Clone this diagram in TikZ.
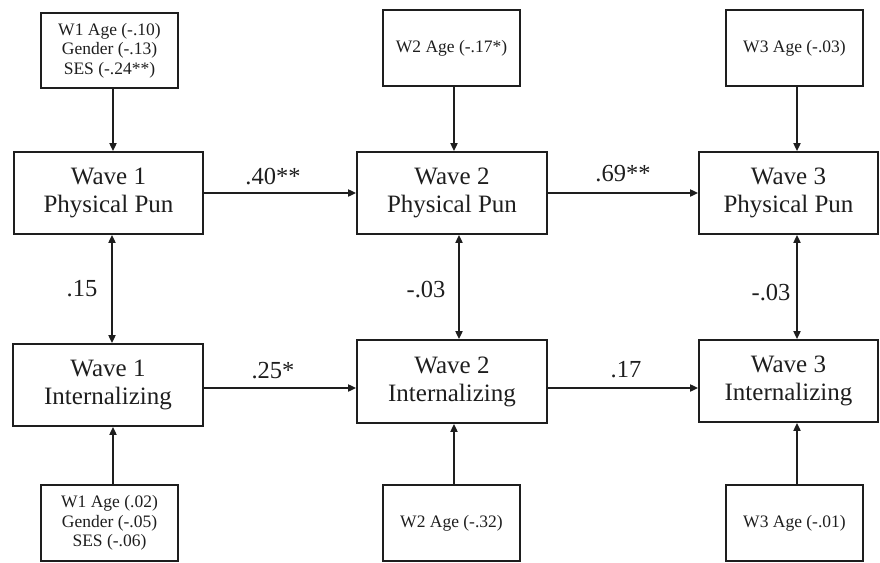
\documentclass[tikz,border=0pt]{standalone}
\usepackage{fontspec}
\setmainfont{Liberation Serif}
\usetikzlibrary{arrows.meta,calc}
\definecolor{ink}{RGB}{30,30,30}
\begin{document}
\begin{tikzpicture}[x=1pt,y=-1pt,
  mainbox/.style={draw=ink,line width=1.7pt,inner sep=0pt,align=center,
    font=\fontsize{25}{28}\selectfont,text=ink},
  covbox/.style={draw=ink,line width=1.7pt,inner sep=0pt,align=center,
    font=\fontsize{17.5}{19.5}\selectfont,text=ink,minimum width=137pt,minimum height=76pt},
  coef/.style={font=\fontsize{24.5}{28}\selectfont,text=ink,inner sep=0pt},
  arr/.style={draw=ink,line width=1.7pt,-{Triangle[length=8pt,width=7pt]}},
  darr/.style={draw=ink,line width=1.7pt,{Triangle[length=8pt,width=7pt]}-{Triangle[length=8pt,width=7pt]}}]
\useasboundingbox (0,0) rectangle (880,562);
% main boxes
\node[mainbox,minimum width=189pt,minimum height=82pt] (p1) at (108.5,193) {Wave 1\\Physical Pun};
\node[mainbox,minimum width=190pt,minimum height=82pt] (p2) at (452,193) {Wave 2\\Physical Pun};
\node[mainbox,minimum width=179pt,minimum height=82pt] (p3) at (788.5,193) {Wave 3\\Physical Pun};
\node[mainbox,minimum width=190pt,minimum height=82pt] (i1) at (108,385) {Wave 1\\Internalizing};
\node[mainbox,minimum width=190pt,minimum height=83pt] (i2) at (452,381.5) {Wave 2\\Internalizing};
\node[mainbox,minimum width=179pt,minimum height=82pt] (i3) at (788.5,381) {Wave 3\\Internalizing};
% covariate boxes
\node[covbox,minimum height=75pt] (c1) at (109.5,50.5) {W1 Age (-.10)\\Gender (-.13)\\SES (-.24**)};
\node[covbox] (c2) at (451.5,48) {W2 Age (-.17*)};
\node[covbox] (c3) at (794.5,48) {W3 Age (-.03)};
\node[covbox] (d1) at (109.5,523) {W1 Age (.02)\\Gender (-.05)\\SES (-.06)};
\node[covbox] (d2) at (451.5,523) {W2 Age (-.32)};
\node[covbox] (d3) at (794.5,523) {W3 Age (-.01)};
% covariate arrows
\draw[arr] ([xshift=3.5pt]c1.south) -- ([xshift=3.5pt]c1.south |- p1.north);
\draw[arr] ([xshift=2.5pt]c2.south) -- ([xshift=2.5pt]c2.south |- p2.north);
\draw[arr] ([xshift=2.5pt]c3.south) -- ([xshift=2.5pt]c3.south |- p3.north);
\draw[arr] ([xshift=3.5pt]d1.north) -- ([xshift=3.5pt]d1.north |- i1.south);
\draw[arr] ([xshift=2.5pt]d2.north) -- ([xshift=2.5pt]d2.north |- i2.south);
\draw[arr] ([xshift=2.5pt]d3.north) -- ([xshift=2.5pt]d3.north |- i3.south);
% within-wave correlations
\draw[darr] ([xshift=3.5pt]p1.south) -- ([xshift=3.5pt]p1.south |- i1.north);
\draw[darr] ([xshift=7pt]p2.south) -- ([xshift=7pt]p2.south |- i2.north);
\draw[darr] ([xshift=8.5pt]p3.south) -- ([xshift=8.5pt]p3.south |- i3.north);
% cross-wave paths
\draw[arr] (p1.east) -- (p1.east -| p2.west);
\draw[arr] (p2.east) -- (p2.east -| p3.west);
\draw[arr] ([yshift=-3pt]i1.east) -- ([yshift=-3pt]i1.east -| i2.west);
\draw[arr] ([yshift=-6.5pt]i2.east) -- ([yshift=-6.5pt]i2.east -| i3.west);
% coefficients
\node[coef] (l1) at (273,177) {.40**};
\node[coef] (l2) at (623,174) {.69**};
\node[coef] (l3) at (273,371) {.25*};
\node[coef] (l4) at (626,370) {.17};
\node[coef] (l5) at (82,289) {.15};
\node[coef] (l6) at (426,290) {-.03};
\node[coef] (l7) at (771,293) {-.03};
\end{tikzpicture}
\end{document}
